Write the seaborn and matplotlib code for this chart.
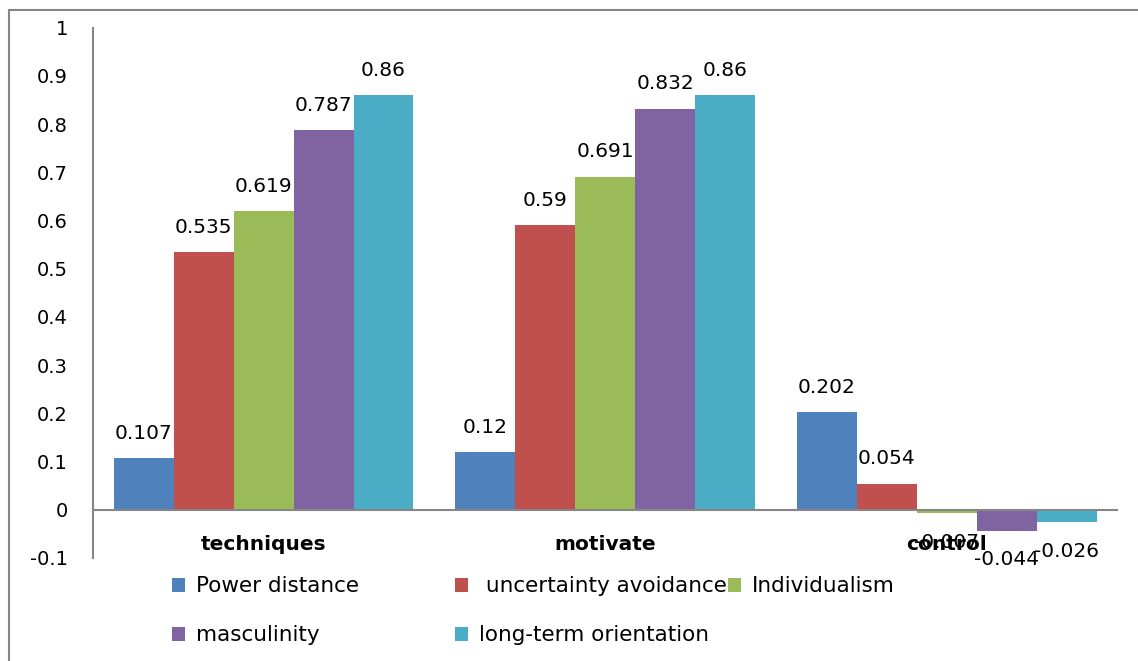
# Clustered bar chart: cultural dimensions vs. techniques / motivate / control

import pandas as pd
import seaborn as sns
import matplotlib.pyplot as plt
from matplotlib.patches import Rectangle

sns.set_style('white')
plt.rcParams['font.family'] = ['DejaVu Sans']
plt.rcParams['text.color'] = 'black'
plt.rcParams['ytick.color'] = 'black'
plt.rcParams['ytick.labelcolor'] = 'black'

categories = ['techniques', 'motivate', 'control']
series = ['Power distance', ' uncertainty avoidance', 'Individualism',
          'masculinity', 'long-term orientation']
values = {
    'Power distance':         [0.107, 0.12, 0.202],
    ' uncertainty avoidance': [0.535, 0.59, 0.054],
    'Individualism':          [0.619, 0.691, -0.007],
    'masculinity':            [0.787, 0.832, -0.044],
    'long-term orientation':  [0.86, 0.86, -0.026],
}
colors = ['#4F81BD', '#C0504D', '#9BBB59', '#8064A2', '#4BACC6']
yticks = [-0.1, 0, 0.1, 0.2, 0.3, 0.4, 0.5, 0.6, 0.7, 0.8, 0.9, 1]
ytick_labels = ['-0.1', '0', '0.1', '0.2', '0.3', '0.4', '0.5', '0.6',
                '0.7', '0.8', '0.9', '1']

rows = []
for s in series:
    for c, v in zip(categories, values[s]):
        rows.append({'category': c, 'series': s, 'value': v})
df = pd.DataFrame(rows)

fig = plt.figure(figsize=(11.38, 6.61), dpi=100)
ax = fig.add_axes([0.0817, 0.156, 0.9003, 0.802])

sns.barplot(data=df, x='category', y='value', hue='series', hue_order=series,
            order=categories, palette=colors, width=0.877, gap=0,
            saturation=1, linewidth=0, ax=ax, legend=False)

ax.set_ylim(-0.1, 1.0)
ax.set_xlim(-0.5, 2.5)
ax.set_yticks(yticks)
ax.set_yticklabels(ytick_labels, fontsize=14)
ax.tick_params(axis='y', length=0, pad=18)
ax.set_xticks([])
ax.set_xlabel('')
ax.set_ylabel('')
for side in ['top', 'right', 'bottom']:
    ax.spines[side].set_visible(False)
ax.spines['left'].set_color('#868686')
ax.spines['left'].set_linewidth(1.5)
ax.axhline(0, color='#868686', lw=1.5, zorder=3)

# value labels (a bit more room under the negative bars)
for cont in ax.containers:
    for bar in cont:
        h = bar.get_height()
        ax.annotate('{:g}'.format(h), (bar.get_x() + bar.get_width() / 2, h),
                    xytext=(0, 11 if h >= 0 else -14),
                    textcoords='offset points', ha='center',
                    va='bottom' if h >= 0 else 'top', fontsize=14.5)

# category labels just under the zero line
for i, c in enumerate(categories):
    ax.text(i, -0.073, c, ha='center', va='center', fontsize=14.5,
            fontweight='bold')

# legend in two blocks, like the Excel layout
handles = ax.containers
leg_kw = dict(loc='upper left', frameon=False, fontsize=15.5,
              handlelength=0.6, handleheight=0.6, handletextpad=0.5,
              labelspacing=1.35, borderpad=0, borderaxespad=0)
fig.legend([handles[0], handles[3]], [series[0], series[3]],
           bbox_to_anchor=(0.151, 0.128), **leg_kw)
fig.legend([handles[1], handles[4], handles[2]],
           [series[1], series[4], series[2]], ncol=2,
           bbox_to_anchor=(0.400, 0.128), columnspacing=0.05, **leg_kw)

# outer chart border
fig.patches.append(Rectangle((9 / 1138, -0.1), 1.2, 1 - 10 / 661 + 0.1,
                             transform=fig.transFigure, fill=False,
                             edgecolor='#868686', lw=1.5))

fig.savefig('out.png', dpi=100)
